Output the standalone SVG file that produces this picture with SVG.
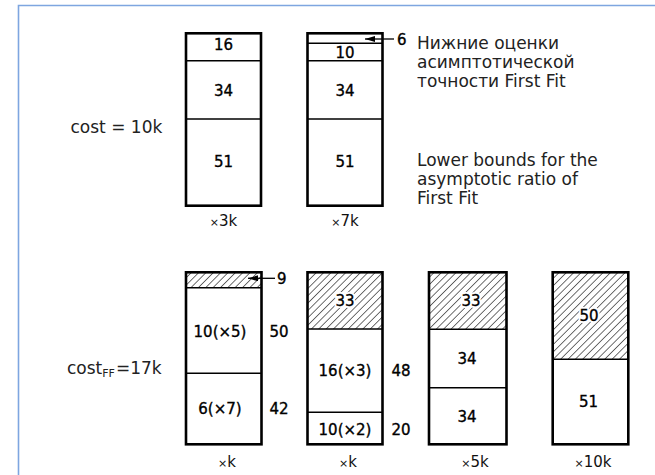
<svg xmlns="http://www.w3.org/2000/svg" width="655" height="475" viewBox="0 0 655 475">
<defs>
<pattern id="hatch" patternUnits="userSpaceOnUse" width="5.2" height="5.2" patternTransform="rotate(45)">
<line x1="0" y1="0" x2="0" y2="5.2" stroke="#111" stroke-width="1.2"/>
</pattern>
<marker id="arr" viewBox="0 0 10 6" refX="10" refY="3" markerWidth="10" markerHeight="6" markerUnits="userSpaceOnUse" orient="auto">
<path d="M0,0 L10,3 L0,6 Z" fill="#000"/>
</marker>
</defs>
<style>
.box{fill:none;stroke:#000;stroke-width:2.6}
.div{stroke:#000;stroke-width:1.6}
.hat{fill:url(#hatch);stroke:none}
.n{font-family:"DejaVu Sans",sans-serif;font-size:15px;fill:#000;text-anchor:middle;stroke:#000;stroke-width:0.35}
.halo{font-family:"DejaVu Sans",sans-serif;font-size:15px;fill:#fff;text-anchor:middle;stroke:#fff;stroke-width:4}
.c{font-family:"DejaVu Sans",sans-serif;font-size:15px;fill:#111;text-anchor:middle}
.s{font-family:"DejaVu Sans",sans-serif;font-size:15px;fill:#000;stroke:#000;stroke-width:0.35}
.x{font-size:11px}
.t{font-family:"DejaVu Sans",sans-serif;font-size:17px;fill:#222}
.lead{stroke:#000;stroke-width:1.3;fill:none}
</style>
<rect width="655" height="475" fill="#fff"/>
<path d="M18.5,475 V5.5 H655" fill="none" stroke="#7ea6e0" stroke-width="1.6"/>

<text class="t" x="70.5" y="132.5">cost = 10k</text>
<text class="t" x="67" y="374">cost<tspan font-size="11" dy="3">FF</tspan><tspan dy="-3" dx="1">=17k</tspan></text>

<g id="legend">
<text class="t" x="417" y="48.5">Нижние оценки</text>
<text class="t" x="417" y="67.5">асимптотической</text>
<text class="t" x="417" y="86.5">точности First Fit</text>
<text class="t" x="417" y="165.5">Lower bounds for the</text>
<text class="t" x="417" y="184.5">asymptotic ratio of</text>
<text class="t" x="417" y="203.5">First Fit</text>
</g>

<g id="bin-top-1">
<line class="div" x1="186" y1="60.7" x2="261" y2="60.7"/>
<line class="div" x1="186" y1="119" x2="261" y2="119"/>
<rect class="box" x="186" y="33.3" width="75" height="172.4"/>
<text class="n" x="223.5" y="50">16</text>
<text class="n" x="223.5" y="95.5">34</text>
<text class="n" x="223.5" y="167">51</text>
<text class="c" x="223.5" y="226"><tspan class="x">×</tspan>3k</text>
</g>

<g id="bin-top-2">
<line class="div" x1="307.5" y1="43.3" x2="382.5" y2="43.3"/>
<line class="div" x1="307.5" y1="60.7" x2="382.5" y2="60.7"/>
<line class="div" x1="307.5" y1="119" x2="382.5" y2="119"/>
<rect class="box" x="307.5" y="33.3" width="75" height="172.4"/>
<text class="n" x="345" y="57.5">10</text>
<text class="n" x="345" y="95.5">34</text>
<text class="n" x="345" y="167">51</text>
<text class="c" x="345" y="226"><tspan class="x">×</tspan>7k</text>
<text class="s" x="397" y="44.5">6</text>
</g>

<g id="bin-bot-1">
<rect class="hat" x="186" y="272.3" width="75.5" height="15.4"/>
<line class="div" x1="186" y1="287.7" x2="261.5" y2="287.7"/>
<line class="div" x1="186" y1="373.3" x2="261.5" y2="373.3"/>
<rect class="box" x="186" y="272.3" width="75.5" height="172"/>
<text class="n" x="220" y="337">10(×5)</text>
<text class="n" x="220" y="413.5">6(×7)</text>
<text class="n" x="279" y="337">50</text>
<text class="n" x="279" y="413.5">42</text>
<text class="s" x="277" y="283.5">9</text>
<text class="c" x="227" y="467"><tspan class="x">×</tspan>k</text>
</g>

<g id="bin-bot-2">
<rect class="hat" x="307.5" y="272.3" width="75" height="56.7"/>
<line class="div" x1="307.5" y1="329" x2="382.5" y2="329"/>
<line class="div" x1="307.5" y1="412.3" x2="382.5" y2="412.3"/>
<rect class="box" x="307.5" y="272.3" width="75" height="172"/>
<text class="halo" x="345" y="305.5">33</text>
<text class="n" x="345" y="305.5">33</text>
<text class="n" x="345" y="375.5">16(×3)</text>
<text class="n" x="345" y="434.5">10(×2)</text>
<text class="n" x="401" y="375.5">48</text>
<text class="n" x="401" y="434.5">20</text>
<text class="c" x="348" y="467"><tspan class="x">×</tspan>k</text>
</g>

<g id="bin-bot-3">
<rect class="hat" x="429" y="272.3" width="77.5" height="57"/>
<line class="div" x1="429" y1="329.3" x2="506.5" y2="329.3"/>
<line class="div" x1="429" y1="387.7" x2="506.5" y2="387.7"/>
<rect class="box" x="429" y="272.3" width="77.5" height="172"/>
<text class="halo" x="471" y="305.5">33</text>
<text class="n" x="471" y="305.5">33</text>
<text class="n" x="467" y="363.5">34</text>
<text class="n" x="467" y="421.5">34</text>
<text class="c" x="475" y="467"><tspan class="x">×</tspan>5k</text>
</g>

<g id="bin-bot-4">
<rect class="hat" x="552.7" y="272.3" width="75.6" height="87"/>
<line class="div" x1="552.7" y1="359.3" x2="628.3" y2="359.3"/>
<rect class="box" x="552.7" y="272.3" width="75.6" height="172"/>
<text class="halo" x="589" y="320.5">50</text>
<text class="n" x="589" y="320.5">50</text>
<text class="n" x="588.5" y="407">51</text>
<text class="c" x="593" y="467"><tspan class="x">×</tspan>10k</text>
</g>

<g id="connectors">
<line class="lead" x1="394" y1="39" x2="365" y2="39" marker-end="url(#arr)"/>
<line class="lead" x1="275" y1="278.3" x2="248" y2="278.3" marker-end="url(#arr)"/>
</g>
</svg>
